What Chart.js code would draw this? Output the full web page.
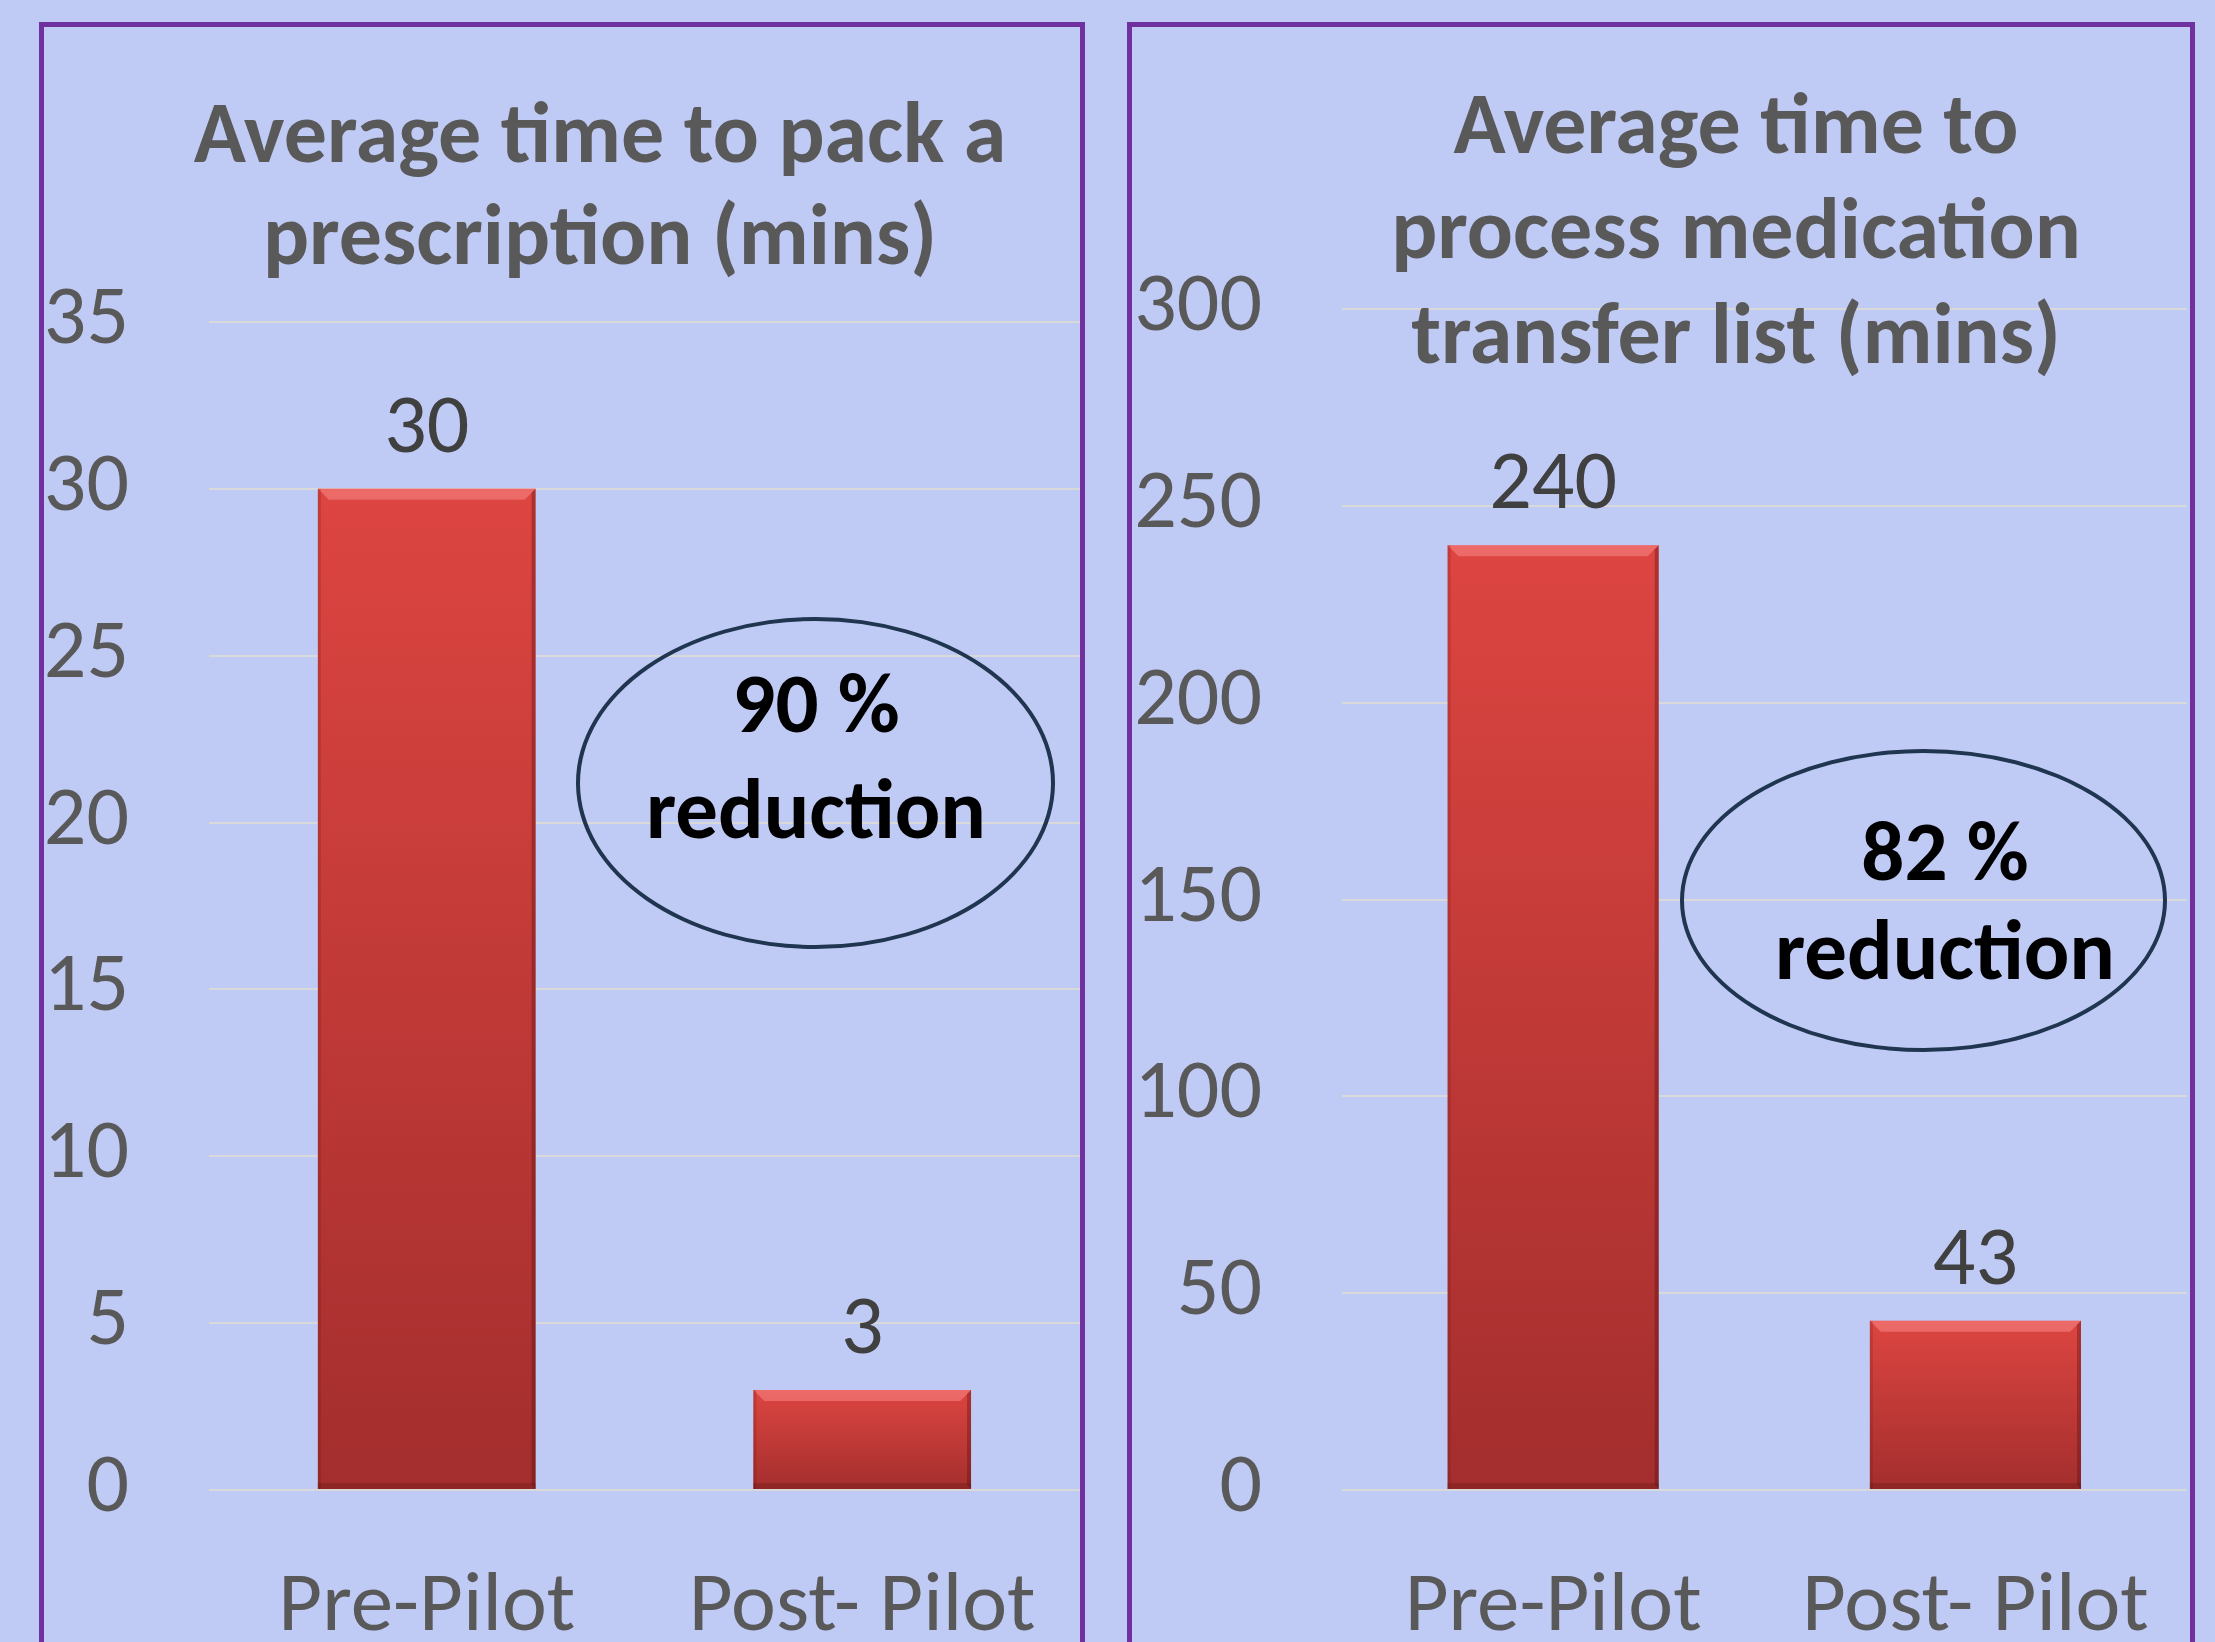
<!DOCTYPE html>
<html>
<head>
<meta charset="utf-8">
<script src="https://cdn.jsdelivr.net/npm/chart.js@4.4.1/dist/chart.umd.min.js"></script>
<style>
  html, body { margin: 0; padding: 0; }
  body { width: 2215px; height: 1642px; background: #c0cbf5; position: relative; overflow: hidden;
         font-family: Carlito, Calibri, Lato, sans-serif; }
  canvas { position: absolute; top: 0; }
  .panel { position: absolute; border: 5px solid #7030a0; box-sizing: border-box; z-index: 3; }
  .title { position: absolute; text-align: center; font-weight: bold; color: #595959; z-index: 2; white-space: nowrap; }
  .oval { position: absolute; border: 4px solid #1f3550; border-radius: 50%; box-sizing: border-box; z-index: 2; }
  .note { position: absolute; text-align: center; font-weight: bold; color: #000; z-index: 2; white-space: nowrap; }
</style>
</head>
<body>
<div class="panel" style="left:39px; top:22px; width:1046px; height:1700px;"></div>
<div class="panel" style="left:1127px; top:22px; width:1068px; height:1700px;"></div>

<canvas id="packChart" width="1100" height="1642" style="left:0;"></canvas>
<canvas id="transferChart" width="1115" height="1642" style="left:1100px;"></canvas>

<div class="title" style="left:100px; top:82px; width:1000px; font-size:86px; line-height:102px;">Average time to pack a<br>prescription (mins)</div>
<div class="title" style="left:1236px; top:71px; width:1000px; font-size:86px; line-height:105px;">Average time to<br>process medication<br>transfer list (mins)</div>

<div class="oval" style="left:576px; top:617px; width:479px; height:332px;"></div>
<div class="note" style="left:516px; top:650px; width:600px; font-size:85px; line-height:106px;">90 %<br>reduction</div>

<div class="oval" style="left:1680px; top:749px; width:487px; height:303px;"></div>
<div class="note" style="left:1645px; top:802px; width:600px; font-size:85px; line-height:99px;">82 %<br>reduction</div>

<script>
// values
const categories = ['Pre-Pilot', 'Post- Pilot'];
const packTimes = [30, 3];          // minutes to pack a prescription
const transferTimes = [240, 43];    // minutes to process medication transfer list
const packAxis = { max: 35, step: 5 };
const transferAxis = { max: 300, step: 50 };

const fontFamily = 'Carlito, Calibri, Lato, sans-serif';
Chart.defaults.font.family = fontFamily;

// vertical red gradient per bar, like the bevelled Excel bars
function barFill(ctx) {
  const chart = ctx.chart;
  const y = chart.scales.y;
  if (!y || ctx.raw == null || !chart.chartArea) return '#c93d3a';
  const top = y.getPixelForValue(ctx.raw);
  const base = y.getPixelForValue(0);
  const g = chart.ctx.createLinearGradient(0, top, 0, base);
  g.addColorStop(0, '#dd4541');
  g.addColorStop(1, '#a32e2d');
  return g;
}

const bevel = {
  id: 'bevel',
  afterDatasetsDraw(chart) {
    const c = chart.ctx;
    chart.getDatasetMeta(0).data.forEach(bar => {
      const l = bar.x - bar.width / 2, r = bar.x + bar.width / 2;
      const t = bar.y, b = bar.base, e = 11;
      c.save();
      // light top edge
      c.fillStyle = 'rgba(255,150,150,0.45)';
      c.beginPath();
      c.moveTo(l, t); c.lineTo(r, t); c.lineTo(r - e, t + e); c.lineTo(l + e, t + e);
      c.closePath(); c.fill();
      // dark right edge
      c.fillStyle = 'rgba(80,15,15,0.35)';
      c.beginPath();
      c.moveTo(r, t); c.lineTo(r, b); c.lineTo(r - 4, b - 4); c.lineTo(r - 4, t + 4);
      c.closePath(); c.fill();
      // dark bottom edge
      c.fillStyle = 'rgba(80,15,15,0.25)';
      c.fillRect(l, b - 6, r - l, 6);
      // faint left edge
      c.fillStyle = 'rgba(80,15,15,0.18)';
      c.fillRect(l, t, 3, b - t);
      c.restore();
    });
  }
};

const valueLabels = {
  id: 'valueLabels',
  afterDatasetsDraw(chart) {
    const c = chart.ctx;
    const values = chart.data.datasets[0].data;
    c.save();
    c.font = '84px ' + fontFamily;
    c.fillStyle = '#404040';
    c.textAlign = 'center';
    c.textBaseline = 'middle';
    chart.getDatasetMeta(0).data.forEach((bar, i) => {
      c.fillText(String(values[i]), bar.x, bar.y - 58);
    });
    c.restore();
  }
};

function buildChart(id, values, axis, area) {
  return new Chart(document.getElementById(id), {
    type: 'bar',
    data: {
      labels: categories,
      datasets: [{
        data: values,
        backgroundColor: barFill,
        borderWidth: 0,
        categoryPercentage: 1,
        barPercentage: 0.5
      }]
    },
    options: {
      responsive: false,
      animation: false,
      devicePixelRatio: 1,
      layout: { padding: { top: area.top, right: area.right, left: 0, bottom: 0 } },
      plugins: { legend: { display: false }, tooltip: { enabled: false } },
      scales: {
        x: {
          grid: { display: false },
          border: { display: false },
          ticks: { color: '#595959', font: { size: 85 }, padding: 60 },
          afterFit: s => { s.height = 152; }
        },
        y: {
          min: 0,
          max: axis.max,
          ticks: { stepSize: axis.step, color: '#595959', font: { size: 84 }, padding: 80 },
          grid: { color: '#d9d9d9', lineWidth: 2, drawTicks: false },
          border: { display: false },
          afterFit: s => { s.width = area.left; }
        }
      }
    },
    plugins: [bevel, valueLabels]
  });
}

buildChart('packChart', packTimes, packAxis, { left: 209, top: 322, right: 18 });
buildChart('transferChart', transferTimes, transferAxis, { left: 242, top: 309, right: 25 });
</script>
</body>
</html>
